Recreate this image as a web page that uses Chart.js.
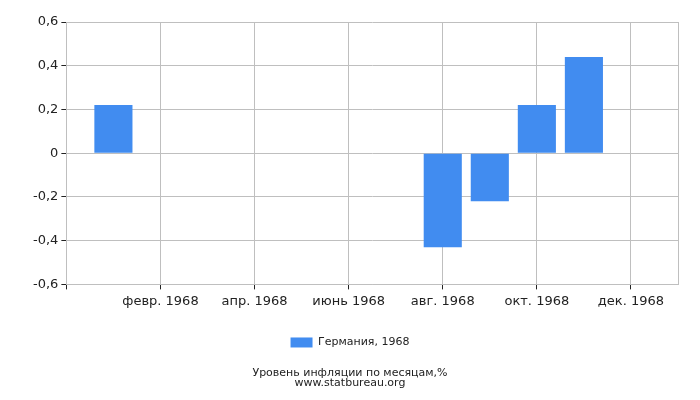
<!DOCTYPE html>
<html>
<head>
<meta charset="utf-8">
<script src="https://cdn.jsdelivr.net/npm/chart.js@4"></script>
<style>
  body { margin: 0; background: #fff; }
</style>
</head>
<body>
<canvas id="chart" width="700" height="400"></canvas>
<script>
"use strict";

// months of 1968, values in %
const months = ["янв. 1968", "февр. 1968", "март 1968", "апр. 1968", "май 1968", "июнь 1968",
    "июль 1968", "авг. 1968", "сент. 1968", "окт. 1968", "нояб. 1968", "дек. 1968"];
const values = [0.22, 0, 0, 0, 0, 0, 0, -0.43, -0.22, 0.22, 0.44, 0];
const yTicks = [-0.6, -0.4, -0.2, 0, 0.2, 0.4, 0.6];
const seriesName = "Германия, 1968";
const titleLines = ["Уровень инфляции по месяцам,%", "www.statbureau.org"];

const gridColor = "#bfbfbf";
Chart.defaults.font.family = "'DejaVu Sans', sans-serif";
Chart.defaults.color = "#222";

var ctx = document.getElementById("chart").getContext("2d");
var chart = new Chart(ctx, {
    type: "bar",
    data: {
        datasets: [{
            label: seriesName,
            backgroundColor: "#418cf0",
            borderWidth: 0,
            data: values.map((v, i) => ({ x: i + 1, y: v })),
            categoryPercentage: 1,
            barPercentage: 0.81,
        }]
    },
    options: {
        responsive: false,
        animation: false,
        layout: { padding: { left: 22, right: 22, top: 22, bottom: 12 } },
        scales: {
            x: {
                type: "linear",
                offset: false,
                min: 0,
                max: months.length + 1,
                afterBuildTicks: (axis) => {
                    axis.ticks = [];
                    for (var i = 0; i <= months.length + 1; i++) axis.ticks.push({ value: i });
                },
                ticks: {
                    autoSkip: false,
                    maxRotation: 0,
                    padding: 4,
                    font: { size: 13 },
                    callback: (v) => (v >= 1 && v <= months.length && v % 2 == 0) ? months[v - 1] : "",
                },
                grid: {
                    offset: false,
                    color: (c) => (c.tick && (c.tick.value % 2 == 0 || c.tick.value == months.length + 1)) ? gridColor : "rgba(0,0,0,0)",
                    tickColor: (c) => (c.tick && c.tick.value % 2 == 0) ? "#222" : "rgba(0,0,0,0)",
                    tickLength: 5,
                },
                border: { color: gridColor },
            },
            y: {
                min: yTicks[0],
                max: yTicks[yTicks.length - 1],
                afterBuildTicks: (axis) => {
                    axis.ticks = yTicks.map(v => ({ value: v }));
                },
                // keep the plot's left edge where it was
                afterFit: (axis) => { axis.width += 8; },
                ticks: {
                    font: { size: 13 },
                    padding: 3,
                    callback: (v) => String(Math.round(v * 10) / 10).replace(".", ","),
                },
                grid: {
                    color: gridColor,
                    tickColor: "#222",
                    tickLength: 5,
                },
                border: { color: gridColor },
            }
        },
        plugins: {
            legend: {
                position: "bottom",
                labels: {
                    boxWidth: 22,
                    boxHeight: 10,
                    padding: 24,
                    font: { size: 11 },
                },
            },
            title: {
                display: true,
                position: "bottom",
                text: titleLines,
                font: { size: 11, weight: "normal", lineHeight: 0.91 },
                padding: { top: 10, bottom: 0 },
            },
            tooltip: { enabled: false },
        }
    }
});
</script>
</body>
</html>
